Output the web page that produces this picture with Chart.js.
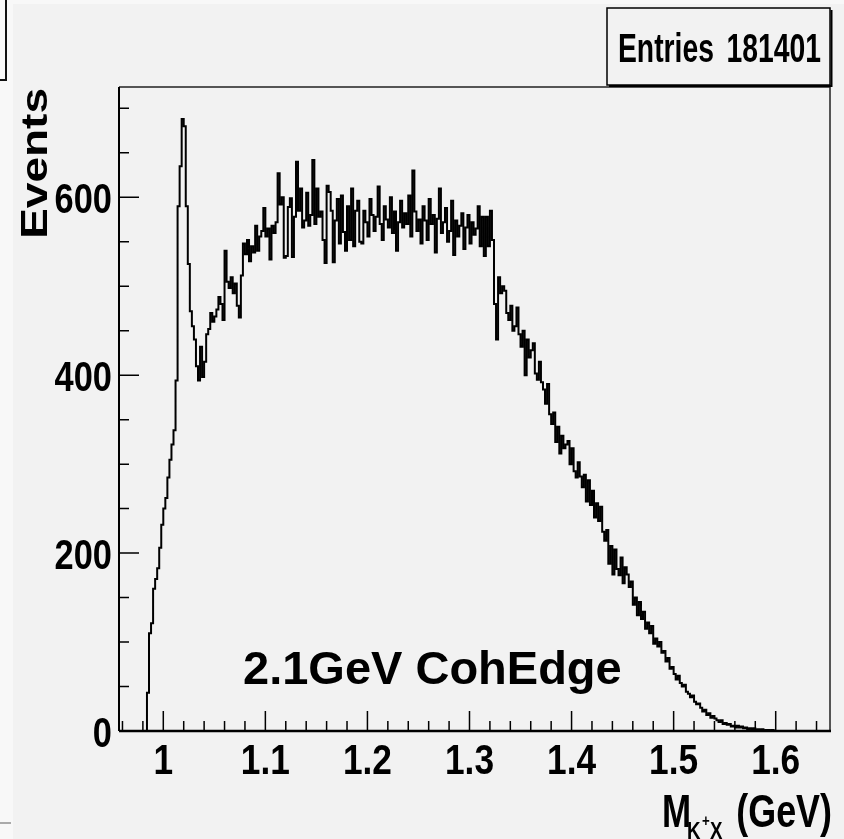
<!DOCTYPE html>
<html><head><meta charset="utf-8">
<script src="https://cdn.jsdelivr.net/npm/chart.js@4.4.0/dist/chart.umd.min.js"></script>
<style>html,body{margin:0;padding:0;background:#f2f2f2;overflow:hidden}canvas{display:block}</style>
</head><body>
<canvas id="c" width="844" height="839"></canvas>
<script>
// ---- data (histogram of M_{K+X}, bin width 0.002 GeV starting at 0.956 GeV) ----
const binLow = 0.956;
const binWidth = 0.002;
const counts = [
  0,0,0,0,0,0,0,0,0,0,
  0,0,0,0,0,43,110,121,160,171,
  183,206,232,250,262,285,305,322,338,394,
  590,635,688,680,590,525,472,455,440,410,
  394,432,398,415,446,452,470,460,466,474,
  488,480,462,540,505,498,510,492,503,478,
  465,512,548,536,552,528,545,538,568,540,
  556,562,588,556,565,530,568,560,572,627,
  592,600,532,534,589,599,533,578,640,585,
  610,566,574,605,568,580,642,570,610,578,
  584,552,526,613,606,585,527,574,598,548,
  602,561,540,590,552,610,545,585,596,550,
  548,585,572,556,598,580,562,578,612,570,
  552,590,575,566,600,560,584,540,572,596,
  566,582,570,602,556,630,584,562,575,548,
  590,574,552,598,570,580,538,576,610,560,
  572,588,550,562,596,535,574,556,568,582,
  542,566,580,548,572,558,565,590,545,578,
  534,578,545,585,552,480,440,510,492,500,
  495,470,462,478,450,455,476,446,432,450,
  400,440,420,428,436,402,395,415,392,384,
  368,390,356,345,358,325,342,312,332,318,
  322,326,300,318,292,285,302,286,274,288,
  258,282,254,270,240,256,236,252,224,214,
  226,188,208,176,204,182,175,195,166,184,
  176,162,168,142,150,130,145,126,134,115,
  122,110,118,98,104,95,100,88,90,78,
  82,70,72,64,58,62,54,50,52,44,
  42,38,40,33,30,31,26,22,24,18,
  20,15,17,14,12,10,12,8,9,7,
  8,5,6,4,6,4,5,3,4,2,
  3,2,3,1,2,1,2,0,1,1,
  0,1,0,0,0,0,0,0,0,0,
  0,0,0,0,0,0,0,0,0,0,
  0,0,0,0,0,0,0,0
];
const xRange = [0.9566, 1.6532];
const yRange = [0, 724];
const xTickValues = [1.0, 1.1, 1.2, 1.3, 1.4, 1.5, 1.6];
const xTickLabels = ['1', '1.1', '1.2', '1.3', '1.4', '1.5', '1.6'];
const xMinorStep = 0.02;
const yTickValues = [0, 200, 400, 600];
const yTickLabels = ['0', '200', '400', '600'];
const yMinorStep = 50;
const yTitle = 'Events';
const xTitleMain = 'M';
const xTitleSub = 'K';
const xTitleSup = '+';
const xTitleSub2 = 'X';
const xTitleUnit = '(GeV)';
const statsName = 'Entries';
const statsValue = '181401';
const annotationText = '2.1GeV CohEdge';

// ---- build histogram points (left bin edges, stepped) ----
const points = counts.map((c, i) => ({x: binLow + i * binWidth, y: c}));
points.push({x: binLow + counts.length * binWidth, y: counts[counts.length - 1]});

const FONT = '"Liberation Sans", Arial, Helvetica, sans-serif';
function txt(ctx, s, x, y, size, sx, align) {
  ctx.save();
  ctx.font = 'bold ' + size + 'px ' + FONT;
  ctx.translate(x, y);
  ctx.scale(sx, 1);
  ctx.textAlign = align;
  ctx.textBaseline = 'alphabetic';
  ctx.fillStyle = '#000';
  ctx.fillText(s, 0, 0);
  ctx.restore();
}

const rootStyle = {
  id: 'rootStyle',
  beforeDraw(chart) {
    const ctx = chart.ctx;
    ctx.save();
    ctx.fillStyle = '#f2f2f2';
    ctx.fillRect(0, 0, 844, 839);
    ctx.fillStyle = '#f8f8f8';
    ctx.fillRect(0, 0, 13, 839);
    ctx.fillRect(13, 0, 831, 4);
    // remnant of neighbouring panel
    ctx.strokeStyle = '#111';
    ctx.lineWidth = 2;
    ctx.beginPath();
    ctx.moveTo(0, 80); ctx.lineTo(6, 80); ctx.lineTo(6, 0);
    ctx.stroke();
    ctx.strokeStyle = '#aaa';
    ctx.beginPath(); ctx.moveTo(0, 823); ctx.lineTo(11, 823); ctx.stroke();
    ctx.restore();
  },
  afterDraw(chart) {
    const ctx = chart.ctx;
    const xs = chart.scales.x, ys = chart.scales.y;
    const L = xs.left, R = xs.right, T = ys.top, B = ys.bottom;
    ctx.save();
    // frame
    ctx.strokeStyle = '#222';
    ctx.lineWidth = 1.5;
    ctx.beginPath();
    ctx.moveTo(L, T); ctx.lineTo(R, T); ctx.lineTo(R, B);
    ctx.stroke();
    // axes
    ctx.strokeStyle = '#000';
    ctx.lineWidth = 2.5;
    ctx.beginPath(); ctx.moveTo(L, B); ctx.lineTo(R + 1, B); ctx.stroke();
    ctx.lineWidth = 2;
    ctx.beginPath(); ctx.moveTo(L, T); ctx.lineTo(L, B); ctx.stroke();
    // x ticks
    ctx.lineWidth = 1.5;
    ctx.beginPath();
    for (let v = 0.96; v < xRange[1]; v += xMinorStep) {
      const vv = Math.round(v * 1000) / 1000;
      const px = xs.getPixelForValue(vv);
      const major = xTickValues.some(t => Math.abs(t - vv) < 1e-6);
      ctx.moveTo(px, B); ctx.lineTo(px, B - (major ? 20 : 10));
    }
    // y ticks
    for (let v = 0; v <= yRange[1]; v += yMinorStep) {
      const py = ys.getPixelForValue(v);
      const major = yTickValues.includes(v);
      ctx.moveTo(L, py); ctx.lineTo(L + (major ? 20 : 10), py);
    }
    ctx.stroke();
    // tick labels
    xTickValues.forEach((v, i) => {
      txt(ctx, xTickLabels[i], xs.getPixelForValue(v), 774, 43, 0.82, 'center');
    });
    yTickValues.forEach((v, i) => {
      txt(ctx, yTickLabels[i], 112, ys.getPixelForValue(v) + 16, 43, 0.8, 'right');
    });
    // y title (rotated)
    ctx.save();
    ctx.font = 'bold 46px ' + FONT;
    ctx.translate(47, 88);
    ctx.rotate(-Math.PI / 2);
    ctx.scale(1, 0.8);
    ctx.textAlign = 'right';
    ctx.fillStyle = '#000';
    ctx.fillText(yTitle, 0, 0);
    ctx.restore();
    // x title
    txt(ctx, xTitleMain, 662, 827, 46, 0.76, 'left');
    txt(ctx, xTitleSub, 687, 839, 24, 0.78, 'left');
    txt(ctx, xTitleSup, 702, 826, 17, 0.78, 'left');
    txt(ctx, xTitleSub2, 710, 839, 24, 0.78, 'left');
    txt(ctx, xTitleUnit, 832, 827, 46, 0.78, 'right');
    // stats box
    ctx.fillStyle = '#f2f2f2';
    ctx.fillRect(607, 8, 223, 77);
    ctx.strokeStyle = '#000';
    ctx.lineWidth = 1.5;
    ctx.strokeRect(607, 8, 223, 77);
    ctx.lineWidth = 2;
    ctx.beginPath(); ctx.moveTo(831.5, 10); ctx.lineTo(831.5, 86); ctx.lineTo(609, 86); ctx.stroke();
    txt(ctx, statsName, 618, 62, 41, 0.69, 'left');
    txt(ctx, statsValue, 821, 62, 41, 0.69, 'right');
    // annotation
    txt(ctx, annotationText, 243, 684, 47, 1.0, 'left');
    ctx.restore();
  }
};

new Chart(document.getElementById('c'), {
  type: 'line',
  data: {
    datasets: [{
      label: 'M_{K+X}',
      data: points,
      stepped: 'after',
      borderColor: '#000',
      borderWidth: 2,
      pointRadius: 0,
      fill: false,
      tension: 0
    }]
  },
  options: {
    responsive: false,
    animation: false,
    devicePixelRatio: 1,
    layout: {padding: {left: 119, right: 14, top: 87, bottom: 108}},
    plugins: {legend: {display: false}, tooltip: {enabled: false}},
    scales: {
      x: {type: 'linear', min: xRange[0], max: xRange[1], display: false},
      y: {type: 'linear', min: yRange[0], max: yRange[1], display: false}
    }
  },
  plugins: [rootStyle]
});
</script>
</body></html>
